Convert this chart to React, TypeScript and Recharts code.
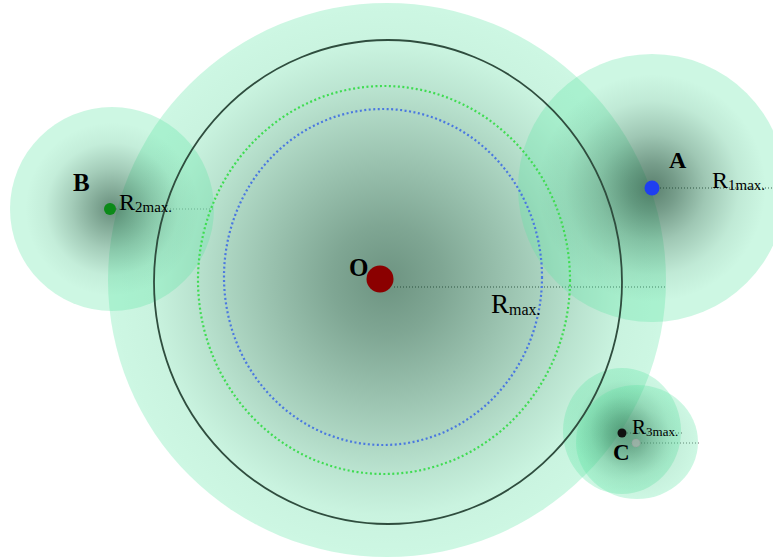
import React from 'react';
import { ScatterChart, Scatter, XAxis, YAxis, ReferenceLine } from 'recharts';

const W = 773;
const H = 558;

// Coverage zones (centre and radii, in diagram units: 1 unit = 1 px)
const zoneNames = ['O', 'A', 'B', 'C1', 'C2'];
const zoneX = [387, 652, 112, 622, 637];
const zoneY = [280, 188, 209, 431, 442];
const zoneRX = [279, 134, 102, 59, 61];
const zoneRY = [277, 134, 102, 63, 57];

// Rings around O
const ringKinds = ['solid', 'green', 'blue'];
const ringX = [388, 384, 383];
const ringY = [282, 280, 277];
const ringRX = [234, 186, 159];
const ringRY = [242, 194, 168];

// Node points
const nodeNames = ['O', 'A', 'B', 'C', 'C2'];
const nodeX = [380, 652, 110, 622, 636];
const nodeY = [279, 188, 209, 433, 443];
const nodeR = [13.5, 7.5, 6, 4.5, 4];
const nodeColors = ['#8b0000', '#1f3ff0', '#0b8a18', '#111111', '#b5b5b5'];

// Radius lines
const lineX1 = [394, 660, 116, 627, 641];
const lineX2 = [667, 773, 213, 683, 699];
const lineY = [287, 188, 209, 433, 443];
const lineColors = ['#333333', '#333333', '#8a8a8a', '#555555', '#666666'];

// Letter labels
const letterText = ['O', 'A', 'B', 'C'];
const letterX = [349, 669, 73, 613];
const letterY = [276, 168, 191, 460];
const letterSize = [25, 24, 25, 23];

// Radius labels
const radSub = ['max.', '1max.', '2max.', '3max.'];
const radX = [491, 712, 119, 632];
const radY = [313, 188, 210, 434];
const radSize = [27, 24, 24, 21];
const radSubSize = [16, 15, 15, 13];

const zoneData = zoneNames.map((name, i) => ({ name, x: zoneX[i], y: zoneY[i], rx: zoneRX[i], ry: zoneRY[i] }));
const ringData = ringKinds.map((kind, i) => ({ kind, x: ringX[i], y: ringY[i], rx: ringRX[i], ry: ringRY[i] }));
const nodeData = nodeNames.map((name, i) => ({ name, x: nodeX[i], y: nodeY[i], r: nodeR[i], color: nodeColors[i] }));
const letterData = letterText.map((t, i) => ({ t, x: letterX[i], y: letterY[i], s: letterSize[i] }));
const radData = radSub.map((sub, i) => ({ sub, x: radX[i], y: radY[i], s: radSize[i], ss: radSubSize[i] }));

const SERIF = '"Liberation Serif", "DejaVu Serif", serif';

const ZoneShape = (p: any) => {
  const d = p.payload;
  return (
    <g>
      <ellipse cx={p.cx} cy={p.cy} rx={d.rx} ry={d.ry} fill="rgb(88,228,162)" fillOpacity={0.3} />
      <ellipse cx={p.cx} cy={p.cy} rx={d.rx} ry={d.ry} fill={`url(#g-${d.name})`} />
    </g>
  );
};

const RingShape = (p: any) => {
  const d = p.payload;
  if (d.kind === 'solid') {
    return <ellipse cx={p.cx} cy={p.cy} rx={d.rx} ry={d.ry} fill="none" stroke="#2f4d3e" strokeWidth={1.8} />;
  }
  const color = d.kind === 'green' ? '#3fdc52' : '#4a78e0';
  return (
    <ellipse cx={p.cx} cy={p.cy} rx={d.rx} ry={d.ry} fill="none" stroke={color} strokeWidth={2.2} strokeDasharray="2 2.5" />
  );
};

const NodeShape = (p: any) => {
  const d = p.payload;
  if (d.name === 'C2') {
    return <circle cx={p.cx} cy={p.cy} r={d.r} fill={d.color} fillOpacity={0.6} stroke="#999" strokeWidth={0.8} strokeDasharray="1 1" />;
  }
  return <circle cx={p.cx} cy={p.cy} r={d.r} fill={d.color} />;
};

const LetterShape = (p: any) => {
  const d = p.payload;
  return (
    <text x={p.cx} y={p.cy} fontFamily={SERIF} fontWeight="bold" fontSize={d.s} fill="#000">
      {d.t}
    </text>
  );
};

const RadShape = (p: any) => {
  const d = p.payload;
  return (
    <text x={p.cx} y={p.cy} fontFamily={SERIF} fontSize={d.s} fill="#000">
      R
      <tspan fontSize={d.ss} dy={2}>
        {d.sub}
      </tspan>
    </text>
  );
};

const grad = (id: string, stops: [number, number][]) => (
  <radialGradient id={id} cx="50%" cy="50%" r="50%">
    {stops.map(([o, a], i) => (
      <stop key={i} offset={`${o}%`} stopColor="rgb(20,55,38)" stopOpacity={a} />
    ))}
  </radialGradient>
);

export default function App() {
  return (
    <div style={{ position: 'absolute', left: 0, top: 0, width: W, height: H, background: '#fff' }}>
      <ScatterChart width={W} height={H} margin={{ top: 0, right: 0, bottom: 0, left: 0 }}>
        <defs>
          {grad('g-O', [[0, 0.52], [20, 0.42], [45, 0.26], [70, 0.1], [85, 0.02], [100, 0]])}
          {grad('g-A', [[0, 0.62], [18, 0.47], [40, 0.25], [65, 0.07], [85, 0], [100, 0]])}
          {grad('g-B', [[0, 0.55], [18, 0.4], [40, 0.22], [65, 0.05], [85, 0], [100, 0]])}
          {grad('g-C1', [[0, 0.48], [25, 0.34], [55, 0.12], [80, 0.02], [100, 0]])}
          {grad('g-C2', [[0, 0.22], [30, 0.14], [60, 0.05], [100, 0]])}
        </defs>
        <XAxis type="number" dataKey="x" domain={[0, W]} hide allowDataOverflow />
        <YAxis type="number" dataKey="y" domain={[0, H]} reversed hide allowDataOverflow />
        <Scatter data={zoneData} shape={ZoneShape} isAnimationActive={false} />
        <Scatter data={ringData} shape={RingShape} isAnimationActive={false} />
        {lineY.map((y, i) => (
          <ReferenceLine
            key={i}
            segment={[{ x: lineX1[i], y }, { x: lineX2[i], y }]}
            stroke={lineColors[i]}
            strokeWidth={1}
            strokeDasharray="1 2"
            ifOverflow="visible"
          />
        ))}
        <Scatter data={nodeData} shape={NodeShape} isAnimationActive={false} />
        <Scatter data={letterData} shape={LetterShape} isAnimationActive={false} />
        <Scatter data={radData} shape={RadShape} isAnimationActive={false} />
      </ScatterChart>
    </div>
  );
}
